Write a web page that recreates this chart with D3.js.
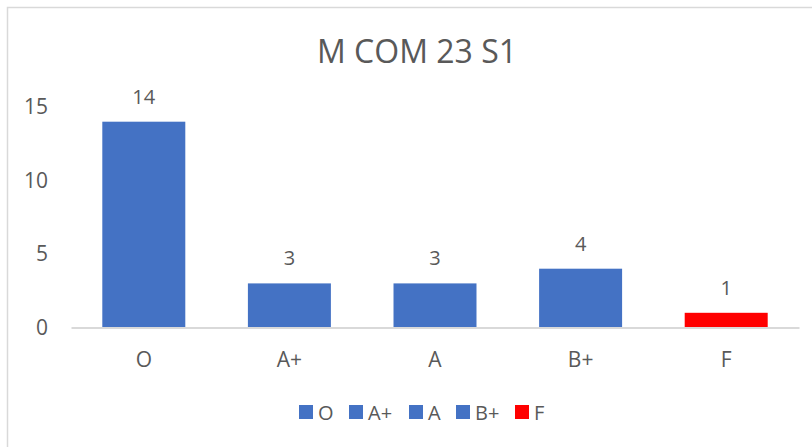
<!DOCTYPE html>
<html>
<head>
<meta charset="utf-8">
<script src="https://cdn.jsdelivr.net/npm/d3@7"></script>
<style>
  body { margin: 0; background: #fff; }
  text { font-family: "Open Sans", "Noto Sans", sans-serif; fill: #595959; }
</style>
</head>
<body>
<div id="chart"></div>
<script>
// chart data
const categories = ["O", "A+", "A", "B+", "F"];
const counts = [14, 3, 3, 4, 1];
const barColors = ["#4472c4", "#4472c4", "#4472c4", "#4472c4", "#ff0000"];
const yTicks = [0, 5, 10, 15];
const chartTitle = "M COM 23 S1";

const width = 812, height = 447;
const plot = { left: 71, right: 799, top: 107, bottom: 327.5 };

const svg = d3.select("#chart").append("svg")
  .attr("width", width)
  .attr("height", height);

// outer chart border (runs off the right/bottom edge)
svg.append("rect")
  .attr("x", 7.5).attr("y", 7.5)
  .attr("width", 820).attr("height", 460)
  .attr("fill", "#fff")
  .attr("stroke", "#d9d9d9")
  .attr("stroke-width", 1.5);

svg.append("text")
  .attr("x", 417).attr("y", 63)
  .attr("text-anchor", "middle")
  .style("font-size", "32px")
  .text(chartTitle);

const x = d3.scaleBand()
  .domain(categories)
  .range([plot.left, plot.right])
  .paddingInner(0.43)
  .paddingOuter(0.215);

const y = d3.scaleLinear()
  .domain([0, 15])
  .range([plot.bottom, plot.top]);

// y axis labels (no axis line)
const yAxis = svg.append("g")
  .attr("transform", `translate(${plot.left - 23},0)`)
  .call(d3.axisLeft(y).tickValues(yTicks).tickSize(0).tickPadding(0));
yAxis.select(".domain").remove();
yAxis.selectAll("text").style("font-size", "21px").attr("fill", "#595959");

// bars
svg.selectAll(".bar")
  .data(categories)
  .enter()
  .append("rect")
  .attr("class", "bar")
  .attr("x", (d) => x(d))
  .attr("y", (d, i) => y(counts[i]))
  .attr("width", x.bandwidth())
  .attr("height", (d, i) => y(0) - y(counts[i]))
  .attr("fill", (d, i) => barColors[i]);

// x axis
const xAxis = svg.append("g")
  .attr("transform", `translate(0,${y(0)})`)
  .call(d3.axisBottom(x).tickSize(0).tickPadding(25));
xAxis.select(".domain").attr("stroke", "#d9d9d9").attr("stroke-width", 2);
xAxis.selectAll("text").style("font-size", "21px").attr("fill", "#595959");

// value labels
svg.selectAll(".value")
  .data(categories)
  .enter()
  .append("text")
  .attr("class", "value")
  .attr("x", (d) => x(d) + x.bandwidth() / 2)
  .attr("y", (d, i) => y(counts[i]) - 18)
  .attr("text-anchor", "middle")
  .style("font-size", "20px")
  .text((d, i) => counts[i]);

// legend
const legendX = [299, 349, 409, 456, 515];
const legend = svg.append("g");
categories.forEach(function (c, i) {
  legend.append("rect")
    .attr("x", legendX[i]).attr("y", 405)
    .attr("width", 14).attr("height", 14)
    .attr("fill", barColors[i]);
  legend.append("text")
    .attr("x", legendX[i] + 19).attr("y", 419.5)
    .style("font-size", "20px")
    .text(c);
});
</script>
</body>
</html>
